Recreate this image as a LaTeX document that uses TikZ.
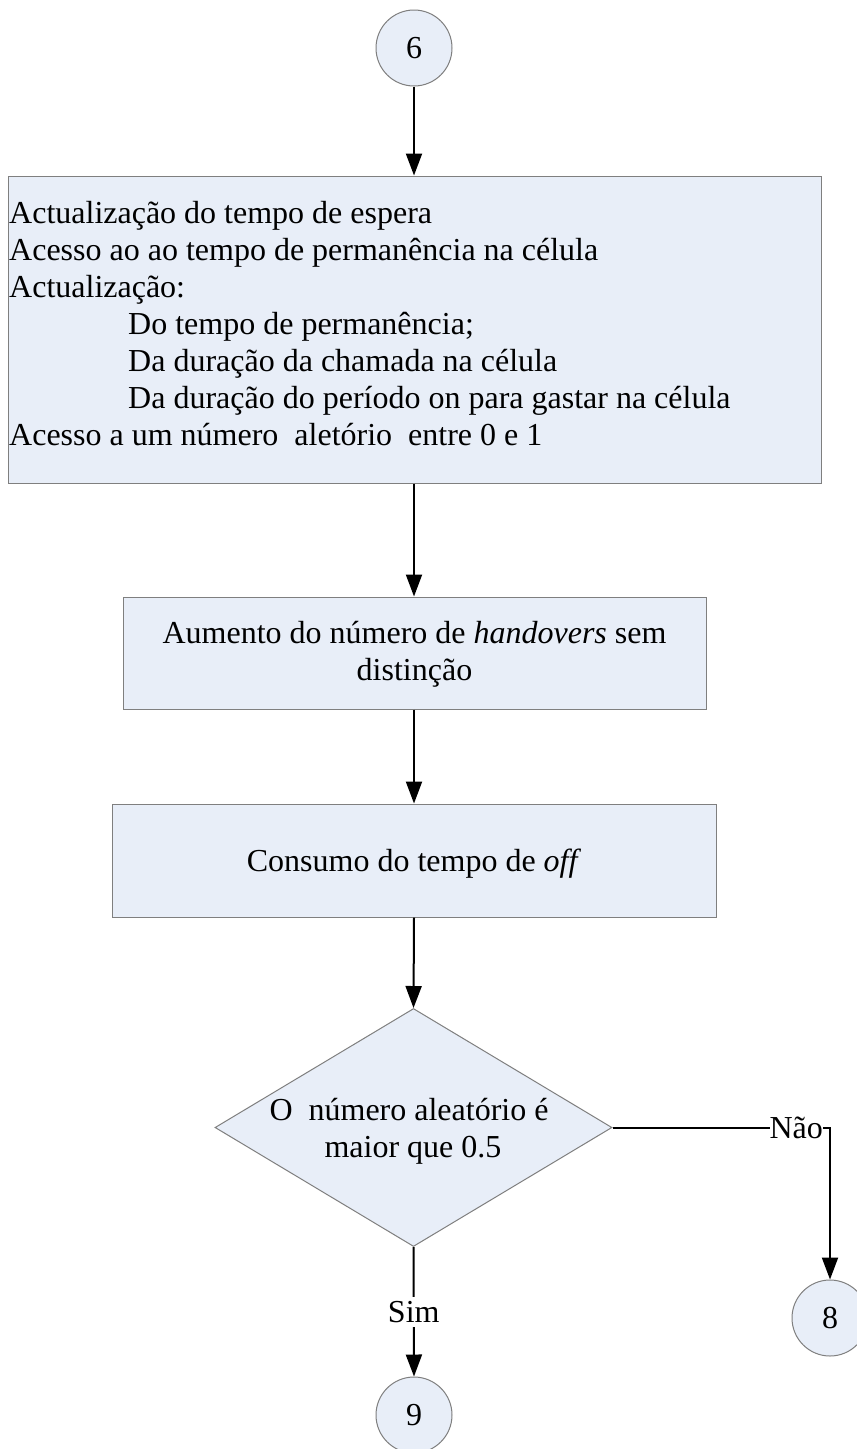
\documentclass[tikz,border=0pt]{standalone}
\usepackage{fontspec}
\setmainfont{Liberation Serif}
\usetikzlibrary{arrows.meta,shapes.geometric}
\definecolor{boxfill}{HTML}{E8EEF8}
\definecolor{boxline}{HTML}{7F7F7F}
\begin{document}
\begin{tikzpicture}[x=1pt,y=-1pt,
  shapebox/.style={draw=boxline, fill=boxfill, line width=1pt, inner sep=0pt},
  conn/.style={circle, shapebox, minimum size=76pt, font=\fontsize{32}{37}\selectfont},
  txt/.style={inner sep=0pt, font=\fontsize{32}{37}\selectfont, anchor=base},
  txtl/.style={txt, anchor=base west},
  arr/.style={line width=2pt, -{Triangle[length=22pt,width=16pt]}},
  lbl/.style={fill=white, inner xsep=0pt, inner ysep=4pt, font=\fontsize{32}{37}\selectfont}]
\useasboundingbox (0,0) rectangle (857,1449);
\fill[white] (0,0) rectangle (857,1449);
\clip (0,0) rectangle (857,1449);

% connectors (circles)
\node[conn] (c6) at (414,48) {6};
\node[conn] (c8) at (830,1318) {8};
\node[conn] (c9) at (414,1415) {9};

% box 1
\node[shapebox, rectangle, minimum width=813pt, minimum height=307pt] (b1) at (414.5,329.5) {};
\node[txtl] (l1) at (9,223) {Actualização do tempo de espera};
\node[txtl] (l2) at (9,260) {Acesso ao ao tempo de permanência na célula};
\node[txtl] (l3) at (9,297) {Actualização:};
\node[txtl] (l4) at (128,334) {Do tempo de permanência;};
\node[txtl] (l5) at (128,371) {Da duração da chamada na célula};
\node[txtl] (l6) at (128,408) {Da duração do período on para gastar na célula};
\node[txtl] (l7) at (9,445) {Acesso a um número\ \ aletório\ \ entre 0 e 1};

% box 2
\node[shapebox, rectangle, minimum width=583pt, minimum height=112pt] (b2) at (414.5,653) {};
\node[txt] (m1) at (414.5,643) {Aumento do número de \textit{handovers} sem};
\node[txt] (m2) at (414.5,680) {distinção};

% box 3
\node[shapebox, rectangle, minimum width=604pt, minimum height=113pt] (b3) at (414,860.5) {};
\node[txt] (n1) at (414,871) {Consumo do tempo de \textit{off}};

% decision
\node[shapebox, diamond, minimum width=397pt, minimum height=238pt] (d) at (413.5,1127.5) {};
\node[txt] (q1) at (409,1120) {O\ \ número aleatório é};
\node[txt] (q2) at (413,1157) {maior que 0.5};

% arrows
\draw[arr] (c6.south) -- (c6.south |- b1.north);
\draw[arr] (b1.south -| c6) -- (b2.north -| c6);
\draw[arr] (b2.south -| c6) -- (b3.north -| c6);
\draw[arr] (b3.south -| c6) -- (d.north);
\draw[arr] (d.south) -- node[lbl, pos=0.5]{Sim} (c9.north);
\coordinate (k) at (830,1127.5);
\draw[arr] (d.east) -- node[lbl, pos=0.845, inner ysep=0pt]{Não} (k) -- (c8.north);
\end{tikzpicture}
\end{document}
